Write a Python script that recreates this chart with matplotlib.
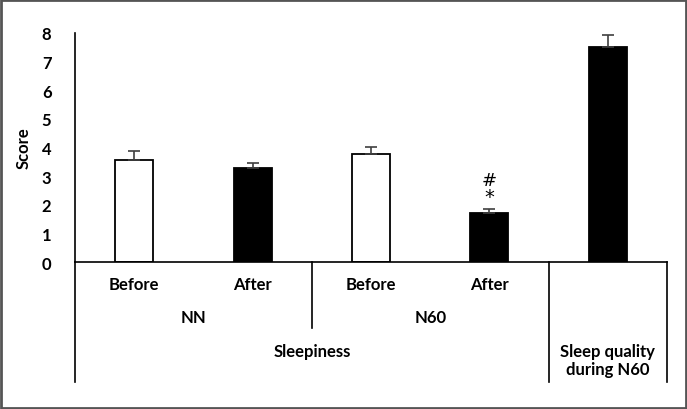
import matplotlib
matplotlib.use("Agg")
import matplotlib.pyplot as plt
from matplotlib.patches import Rectangle
import matplotlib.transforms as mtransforms

plt.rcParams['font.family'] = ['Lato', 'DejaVu Sans']
plt.rcParams['font.weight'] = 'bold'

# Data
bar_labels = ["Before", "After", "Before", "After", ""]
values = [3.58, 3.3, 3.78, 1.72, 7.5]
errors = [0.3, 0.15, 0.23, 0.12, 0.42]
fills = ["white", "black", "white", "black", "black"]
group_labels = ["NN", "N60"]
group_centers = [0.5, 2.5]
outer_labels = ["Sleepiness", "Sleep quality\nduring N60"]
outer_centers = [1.5, 4.0]
yticks = [0, 1, 2, 3, 4, 5, 6, 7, 8]

W, H = 687, 410
fig = plt.figure(figsize=(W / 100, H / 100), dpi=100)
ax = fig.add_axes([75 / W, 1 - 263 / H, (667 - 75) / W, (263 - 34) / H])

FS = 12
x = list(range(len(values)))
ax.bar(x, values, width=0.32, color=fills, edgecolor="black", linewidth=1.3, zorder=2)
ax.errorbar(x, values, yerr=[[0] * len(errors), errors], fmt="none",
            ecolor="#404040", elinewidth=1.2, capsize=4, capthick=1.2, zorder=3)

ax.set_xlim(-0.5, 4.5)
ax.set_ylim(0, 8)
ax.set_yticks(yticks)
ax.set_yticklabels([str(t) for t in yticks], fontsize=FS, fontweight="bold")
ax.tick_params(axis="y", length=0, pad=17)
ax.set_xticks([])
for s in ["top", "right"]:
    ax.spines[s].set_visible(False)
ax.spines["left"].set_linewidth(1.2)
ax.spines["bottom"].set_linewidth(1.2)
ax.set_ylabel("Score", fontsize=FS, fontweight="bold", labelpad=7)

# significance marks
top4 = values[3] + errors[3]
ax.text(3, top4 + 0.12, "*", ha="center", va="bottom", fontsize=14,
        fontweight="normal", family=["DejaVu Sans"])
ax.text(3, top4 + 0.72, "#", ha="center", va="bottom", fontsize=13,
        fontweight="normal", family=["DejaVu Sans"])

trans = mtransforms.blended_transform_factory(ax.transData, ax.transAxes)
ah = 263 - 34
def yfrac(py):
    return -(py - 263) / ah

for xi, lab in zip(x, bar_labels):
    if lab:
        ax.text(xi, yfrac(285), lab, transform=trans, ha="center", va="center", fontsize=FS, fontweight="bold")
for xc, lab in zip(group_centers, group_labels):
    ax.text(xc, yfrac(318), lab, transform=trans, ha="center", va="center", fontsize=FS, fontweight="bold")
ax.text(outer_centers[0], yfrac(352), outer_labels[0], transform=trans, ha="center", va="center",
        fontsize=FS, fontweight="bold")
ax.text(outer_centers[1], yfrac(361), outer_labels[1], transform=trans, ha="center", va="center",
        fontsize=FS, fontweight="bold", linespacing=1.15)

# separator lines
for xs, ybot in [(-0.5, 383), (1.5, 329), (3.5, 383), (4.5, 383)]:
    ax.plot([xs, xs], [0, yfrac(ybot)], transform=trans, color="black", lw=1.2, clip_on=False)

# outer frame
fig.patches.append(Rectangle((0.0015, 0.002), 0.997, 0.996, transform=fig.transFigure,
                             fill=False, edgecolor="#555555", linewidth=2))

fig.savefig("out.png", dpi=100)
